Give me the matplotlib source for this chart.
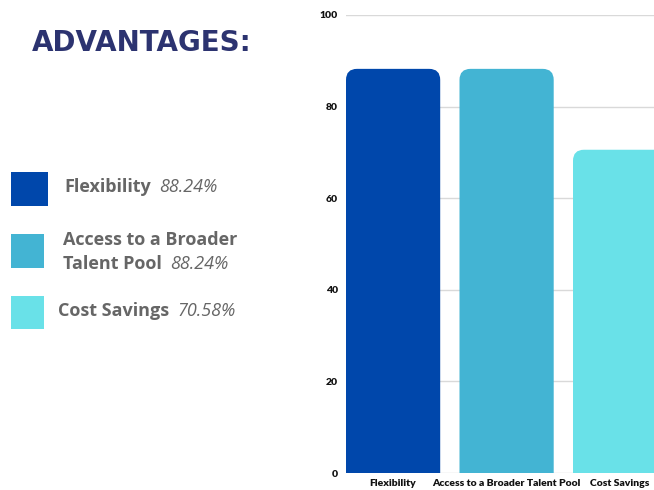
import matplotlib
matplotlib.use("Agg")
import matplotlib.pyplot as plt
from matplotlib.patches import FancyBboxPatch

categories = ["Flexibility", "Access to a Broader Talent Pool", "Cost Savings"]
values = [88.24, 88.24, 70.58]
legend_lines = [["Flexibility"], ["Access to a Broader", "Talent Pool"], ["Cost Savings"]]
value_labels = ["88.24%", "88.24%", "70.58%"]
yticks = [0, 20, 40, 60, 80, 100]
colors = ["#0047AB", "#43B4D3", "#69E1E8"]

W, H = 654, 490
fig = plt.figure(figsize=(W / 100, H / 100), dpi=100)

def fx(x):
    return x / W

def fy(y):
    return 1 - y / H

# Axes: pixel 346..654 horizontally, 15..473 vertically
ax = fig.add_axes([fx(346), fy(473), fx(654) - fx(346), fy(15) - fy(473)])
bar_w = 0.83
xlo, xhi = -bar_w / 2, -bar_w / 2 + (654 - 346) / 113.5
ax.set_xlim(xlo, xhi)
ax.set_ylim(0, 100)

bars = ax.bar(range(len(categories)), values, width=bar_w,
              color=colors, zorder=2, linewidth=0)
ax_w_px = 654 - 346
ax_h_px = 473 - 15
px_per_x = ax_w_px / (xhi - xlo)
px_per_y = ax_h_px / 100
r_px = 11
r = r_px / px_per_x
ry = r_px / px_per_y
aspect = ry / r
for b, c in zip(bars, colors):
    h = b.get_height()
    b.set_visible(False)
    p = FancyBboxPatch((b.get_x(), -2 * ry), b.get_width(), h + 2 * ry,
                       boxstyle=f"round,pad=0,rounding_size={r}",
                       mutation_aspect=aspect, facecolor=c, edgecolor="none",
                       linewidth=0, zorder=2)
    ax.add_patch(p)
    p.set_clip_path(ax.patch)

ax.set_yticks(yticks)
ax.set_yticklabels([str(t) for t in yticks], fontsize=7.5, fontweight="heavy",
                   color="#111111", family="Lato")
ax.set_xticks(range(len(categories)))
ax.set_xticklabels(categories, fontsize=7.5, fontweight="heavy", color="#111111",
                   family="Lato")
ax.tick_params(axis="both", length=0)
ax.tick_params(axis="y", pad=6)
ax.tick_params(axis="x", pad=4)
ax.grid(axis="y", color="#d9d9d9", linewidth=1, zorder=0)
for s in ax.spines.values():
    s.set_visible(False)

# Title
fig.text(fx(32), fy(43), "ADVANTAGES:", fontsize=20, fontweight="bold",
         color="#2C3370", family="DejaVu Sans", va="center", ha="left")

# Legend
squares = [(11, 172, 37, 34), (11, 234, 33, 34), (11, 296, 33, 33)]
for (x, y, w, h), c in zip(squares, colors):
    fig.patches.append(plt.Rectangle((fx(x), fy(y + h)), w / W, h / H,
                                     transform=fig.transFigure, facecolor=c,
                                     edgecolor="none"))

text_pos = [[(64, 187)], [(63, 240), (63, 264)], [(58, 311)]]
fig.canvas.draw()
renderer = fig.canvas.get_renderer()
for lines, pos, val in zip(legend_lines, text_pos, value_labels):
    last = None
    for line, (x, y) in zip(lines, pos):
        last = fig.text(fx(x), fy(y), line, fontsize=13, fontweight="bold",
                        color="#666666", family="Open Sans", va="center", ha="left")
    bb = last.get_window_extent(renderer)
    ly = last.get_position()[1]
    fig.text(fx(bb.x1 + 8), ly, val, fontsize=13, style="italic",
             color="#666666", family="Open Sans", va="center", ha="left")

fig.savefig("out.png", dpi=100)
